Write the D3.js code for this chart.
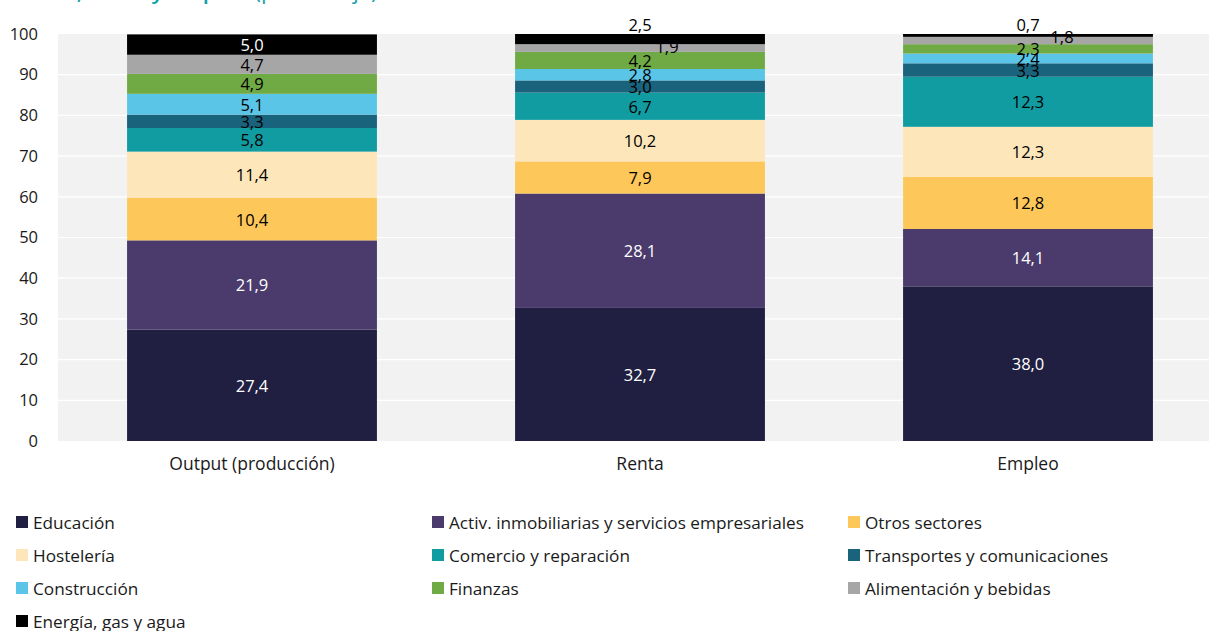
<!DOCTYPE html>
<html>
<head>
<meta charset="utf-8">
<script src="https://cdn.jsdelivr.net/npm/d3@7"></script>
<style>
  html, body { margin: 0; padding: 0; background: #fff; }
  svg { display: block; font-family: "Open Sans", "Noto Sans", sans-serif; }
</style>
</head>
<body>
<svg id="chart" width="1209" height="631"></svg>
<script>
// ---- data ----
const categories = ["Output (producción)", "Renta", "Empleo"];
const sectors = [
  "Educación",
  "Activ. inmobiliarias y servicios empresariales",
  "Otros sectores",
  "Hostelería",
  "Comercio y reparación",
  "Transportes y comunicaciones",
  "Construcción",
  "Finanzas",
  "Alimentación y bebidas",
  "Energía, gas y agua"
];
const outputValues = [27.4, 21.9, 10.4, 11.4, 5.8, 3.3, 5.1, 4.9, 4.7, 5.0];
const rentaValues  = [32.7, 28.1, 7.9, 10.2, 6.7, 3.0, 2.8, 4.2, 1.9, 2.5];
const empleoValues = [38.0, 14.1, 12.8, 12.3, 12.3, 3.3, 2.4, 2.3, 1.8, 0.7];
const yTicks = [0, 10, 20, 30, 40, 50, 60, 70, 80, 90, 100];
const colors = ["#201f42", "#4a3b6c", "#fec759", "#fee6bb", "#119ca2",
                "#1a637d", "#5bc5e7", "#70aa45", "#a6a6a6", "#000000"];
const labelColors = ["#fff", "#fff", "#000", "#000", "#000", "#000", "#000", "#000", "#000", "#fff"];

const seriesByCat = [outputValues, rentaValues, empleoValues];

// ---- layout ----
const svg = d3.select("#chart");
const W = 1209;
const plotLeft = 58, plotTop = 34, plotBottom = 441;
const fs = 16.5;      // numbers
const fsCat = 17.5;   // category labels
const fsLeg = 17.2;   // legend

const x = d3.scaleBand().domain(categories).range([plotLeft, plotLeft + 3 * 388])
  .paddingInner(0.356).paddingOuter(0.178);
const y = d3.scaleLinear().domain([0, 100]).range([plotBottom, plotTop]);

// title (clipped at top)
const title = svg.append("text").attr("x", 0).attr("y", -1)
  .attr("fill", "#14a1a9").style("font-size", "22px");
title.append("tspan").attr("font-weight", 600).text("Efectos, renta y empleo ");
title.append("tspan").attr("font-weight", 400).text("(porcentaje)");

// background
svg.append("rect").attr("x", plotLeft).attr("y", plotTop)
  .attr("width", W - plotLeft).attr("height", plotBottom - plotTop)
  .attr("fill", "#f2f2f2");

// grid
svg.append("g").selectAll("line").data(yTicks.filter(d => d > 0 && d < 100)).join("line")
  .attr("x1", plotLeft).attr("x2", W)
  .attr("y1", d => y(d)).attr("y2", d => y(d))
  .attr("stroke", "#ffffff").attr("stroke-width", 1.2);

// y axis
const yAxis = svg.append("g").attr("transform", `translate(${plotLeft},0)`)
  .call(d3.axisLeft(y).tickValues(yTicks).tickSize(0).tickPadding(20));
yAxis.select(".domain").remove();
yAxis.selectAll("text").style("font-size", fs + "px").attr("fill", "#1a1a1a")
  .style("font-family", "'Open Sans', 'Noto Sans', sans-serif");

// x axis
const xAxis = svg.append("g").attr("transform", `translate(0,${plotBottom})`)
  .call(d3.axisBottom(x).tickSize(0).tickPadding(17));
xAxis.select(".domain").remove();
xAxis.selectAll("text").style("font-size", fsCat + "px").attr("fill", "#1a1a1a")
  .style("font-family", "'Open Sans', 'Noto Sans', sans-serif");

// stack
const rows = categories.map((c, i) => {
  const o = { cat: c };
  sectors.forEach((s, j) => o[s] = seriesByCat[i][j]);
  return o;
});
const stacked = d3.stack().keys(sectors)(rows);

const layers = svg.append("g").selectAll("g").data(stacked).join("g")
  .attr("fill", (d, i) => colors[i]);
layers.selectAll("rect").data(d => d.map(p => ({ p, key: d.key }))).join("rect")
  .attr("x", d => x(d.p.data.cat))
  .attr("width", x.bandwidth())
  .attr("y", d => y(d.p[1]))
  .attr("height", d => y(d.p[0]) - y(d.p[1]));

// labels
const fmt = v => d3.format(".1f")(v).replace(".", ",");
// manual adjustments for crowded labels (category index - sector index)
const labelOffsets = {
  "1-9": { dx: 0, absY: 24, color: "#000" },
  "2-9": { dx: 0, absY: 24, color: "#000" },
  "1-8": { dx: 27, dy: -2 },
  "2-8": { dx: 34, dy: -4 }
};
const labelsG = svg.append("g");
stacked.forEach((layer, si) => {
  layer.forEach((p, ci) => {
    const off = labelOffsets[ci + "-" + si] || {};
    const cx = x(p.data.cat) + x.bandwidth() / 2 + (off.dx || 0);
    const cy = off.absY !== undefined ? off.absY : (y(p[0]) + y(p[1])) / 2 + (off.dy || 0);
    labelsG.append("text")
      .attr("x", cx).attr("y", cy)
      .attr("text-anchor", "middle").attr("dominant-baseline", "central")
      .attr("fill", off.color || labelColors[si])
      .style("font-size", fs + "px")
      .text(fmt(p.data[layer.key]));
  });
});

// legend
const legCols = [16, 432, 848];
const legRowY = [522, 555, 588, 621];
const leg = svg.append("g").selectAll("g").data(sectors).join("g")
  .attr("transform", (d, i) => `translate(${legCols[i % 3]},${legRowY[Math.floor(i / 3)]})`);
leg.append("rect").attr("x", 0).attr("y", -6).attr("width", 12).attr("height", 12)
  .attr("fill", (d, i) => colors[i]);
leg.append("text").attr("x", 17).attr("y", 0).attr("dominant-baseline", "central")
  .attr("fill", "#1a1a1a").style("font-size", fsLeg + "px").text(d => d);
</script>
</body>
</html>
